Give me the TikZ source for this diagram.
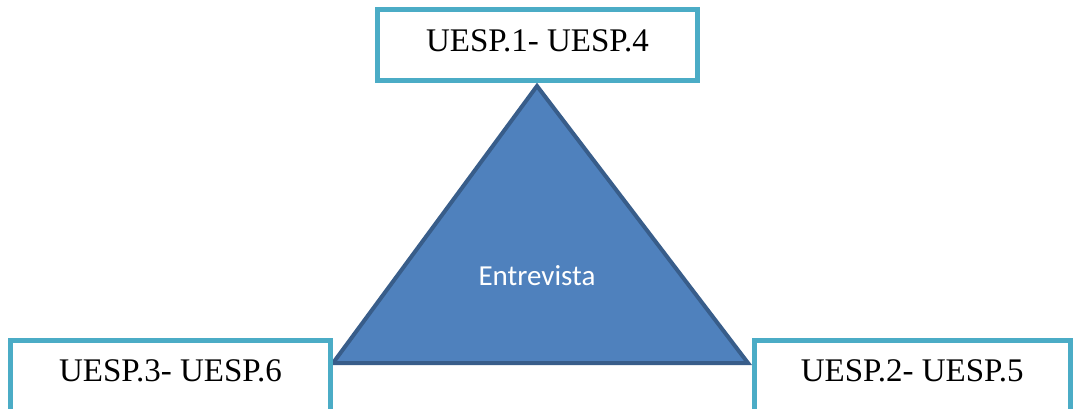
\documentclass[tikz,border=0pt]{standalone}
\usepackage{fontspec}
\setmainfont{Liberation Serif}
\newfontfamily\calfont{Carlito}
\definecolor{boxcol}{HTML}{4BACC6}
\definecolor{trifill}{HTML}{4F81BD}
\definecolor{triline}{HTML}{385D8A}
\tikzset{
  uebox/.style={draw=boxcol, line width=5pt, fill=white, minimum width=320pt, minimum height=71.5pt, inner sep=0pt,
    font=\fontsize{33}{39}\selectfont},
  tri/.style={fill=trifill, draw=triline, line width=4pt, line join=miter},
  trilabel/.style={text=white, font=\calfont\fontsize{29}{35}\selectfont, anchor=base}
}
\begin{document}
\begin{tikzpicture}[x=1pt,y=-1pt]
\useasboundingbox (0,0) rectangle (1073,409);
\clip (0,0) rectangle (1073,409);
\coordinate (apex) at (537,86);
\coordinate (bl) at (333,363);
\coordinate (br) at (748,363);
\draw[tri] (apex) -- (bl) -- (br) -- cycle;
\node[trilabel] (entrevista) at (537,285) {Entrevista};
\node[uebox, text height=22pt, text depth=8.5pt] (top) at (537.5,45.25) {UESP.1- UESP.4};
\node[uebox, text height=22pt, text depth=12.5pt] (left) at (170.5,376.25) {UESP.3- UESP.6};
\node[uebox, minimum width=315.5pt, text height=22pt, text depth=12.5pt] (right) at (912.25,376.25) {UESP.2- UESP.5};
\end{tikzpicture}
\end{document}
